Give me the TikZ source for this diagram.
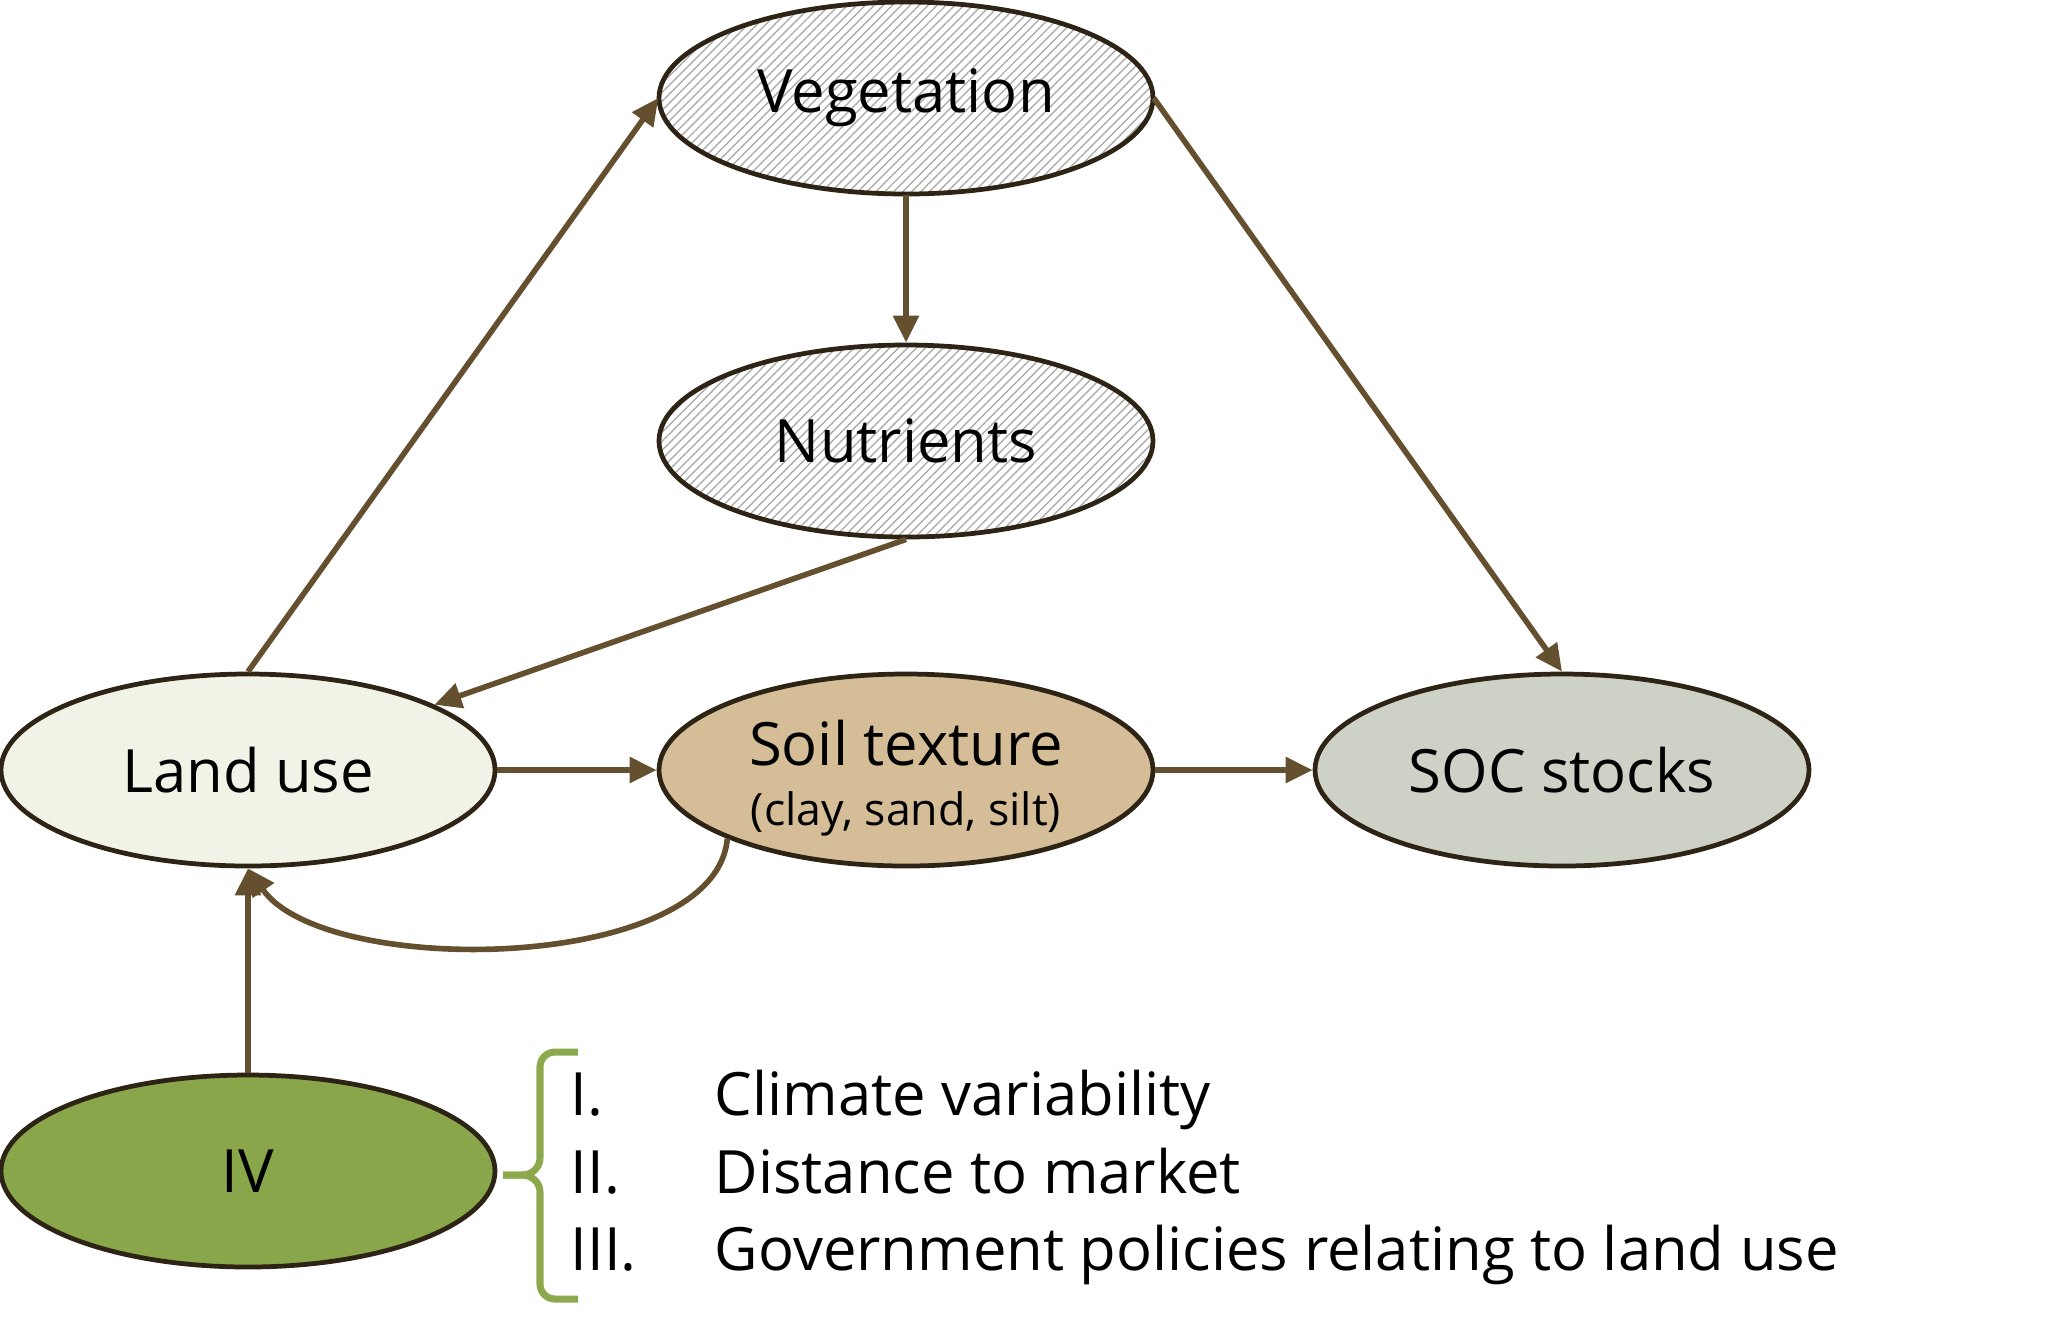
\documentclass[tikz,border=0pt]{standalone}
\usepackage{fontspec}
\setmainfont{Open Sans}
\usepackage{tikz}
\usetikzlibrary{arrows.meta,positioning,shapes.geometric,patterns.meta}
\usepackage{xcolor}
\definecolor{arrowbrown}{HTML}{64502E}
\definecolor{rimbrown}{HTML}{2E2415}
\definecolor{landfill}{HTML}{F0F3E6}
\definecolor{soilfill}{HTML}{D4BD97}
\definecolor{socfill}{HTML}{CDD1C6}
\definecolor{ivfill}{HTML}{8AA64B}
\definecolor{bracegreen}{HTML}{8DA94D}

\begin{document}
\begin{tikzpicture}[
  oval/.style={ellipse, draw=rimbrown, line width=1.35pt, minimum width=4.94cm,
               minimum height=1.92cm, inner sep=0pt, align=center,
               font=\fontsize{17}{17}\selectfont},
  hatched/.style={pattern={Lines[angle=45, distance=1.8pt, line width=0.4pt]},
                  pattern color=gray!65},
  arr/.style={draw=arrowbrown, line width=1.6pt,
              -{Triangle[length=0.27cm, width=0.25cm]}},
  item/.style={anchor=base west, inner sep=0pt, font=\fontsize{17}{17}\selectfont}]
  \useasboundingbox (0,0) rectangle (20.70,-13.27);
  % Knoten: oben Vegetation und Nutrients, Mitte Reihe, unten IV
  \node[oval, hatched]        (veg)  at (9.06, -0.98)  {Vegetation};
  \node[oval, hatched]        (nutr) at (9.06, -4.41)  {Nutrients};
  \node[oval, fill=landfill]  (land) at (2.48, -7.70)  {Land use};
  \node[oval, fill=soilfill]  (soil) at (9.06, -7.70)  {};
  \node[align=center, inner sep=0pt, font=\fontsize{17}{17}\selectfont]
      (soiltxt) at ([yshift=-0.08cm]soil.center)
      {Soil texture\\{\fontsize{12.7}{14}\selectfont (clay, sand, silt)}};
  \node[oval, fill=socfill]   (soc)  at (15.62, -7.70) {SOC stocks};
  \node[oval, fill=ivfill]    (iv)   at (2.48, -11.71) {IV};
  % Pfeile
  \draw[arr] (land.north) -- (veg.west);
  \draw[arr] (veg.east)   -- (soc.north);
  \draw[arr] (veg.south)  -- (nutr.north);
  \draw[arr] (nutr.south) -- (land);
  \draw[arr] (land.east)  -- (soil.west);
  \draw[arr] (soil.east)  -- (soc.west);
  \draw[arr] (iv.north)   -- (land.south);
  \draw[arr] (soil.201) to[out=-95, in=-55, looseness=0.72] (land.south);
  % Klammer
  \draw[bracegreen, line width=2pt]
      (5.78,-10.52) -- (5.55,-10.52) to[out=180, in=90] (5.40,-10.67)
      -- (5.40,-11.58) to[out=-90, in=0] (5.22,-11.75) -- (5.03,-11.75);
  \draw[bracegreen, line width=2pt]
      (5.03,-11.75) -- (5.22,-11.75) to[out=0, in=90] (5.40,-11.92)
      -- (5.40,-12.84) to[out=-90, in=180] (5.55,-12.99) -- (5.78,-12.99);
  % Liste
  \node[item] (num1) at (5.70, -11.15) {I.};
  \node[item] (txt1) at (7.14, -11.15) {Climate variability};
  \node[item] (num2) at (5.70, -11.93) {II.};
  \node[item] (txt2) at (7.14, -11.93) {Distance to market};
  \node[item] (num3) at (5.70, -12.70) {III.};
  \node[item] (txt3) at (7.14, -12.70) {Government policies relating to land use};
\end{tikzpicture}
\end{document}
